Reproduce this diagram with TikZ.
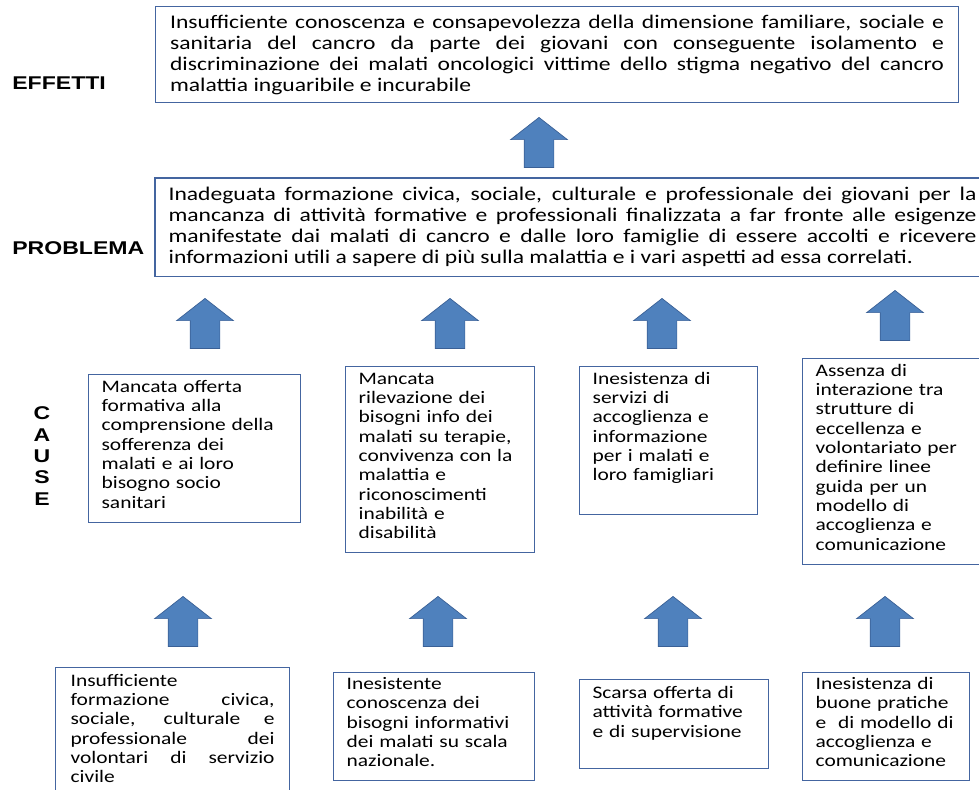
\documentclass[tikz,border=0pt]{standalone}
\usepackage{fontspec}
\setmainfont{Carlito}[FakeStretch=1.22]
\newfontfamily\labelfont{Liberation Sans}[FakeStretch=1.25]
\usepackage{tikz}
\usetikzlibrary{shapes.arrows}
\definecolor{boxline}{RGB}{68,101,160}
\definecolor{arrowfill}{RGB}{79,129,189}
\definecolor{arrowline}{RGB}{58,96,150}
\tikzset{
    %Define standard block arrow
    freccia/.style={
           single arrow,
           rotate=90,
           anchor=tip,
           fill=arrowfill, draw=arrowline, thin,
           minimum height=1cm,
           minimum width=1.12cm,
           single arrow head extend=0.27cm,
           single arrow tip angle=104,
           inner sep=0pt,
           text height=0.29cm, text depth=0.29cm},
    % Define style for the wide boxes
    riquadro/.style={
           rectangle,
           draw=boxline, line width=0.7pt,
           anchor=north west,
           inner xsep=0.26cm, inner ysep=0pt,
           align=justify,
           font=\fontsize{11}{12}\selectfont},
    % Define style for cause boxes
    causa/.style={
           rectangle,
           draw=boxline, line width=0.7pt,
           anchor=north west,
           inner xsep=0.26cm, inner ysep=0pt,
           align=left,
           text height=0.35cm,
           font=\fontsize{10}{11}\selectfont},
    % Define style for the side labels
    etichetta/.style={inner sep=0pt, font=\labelfont\bfseries\fontsize{10.5}{12.2}\selectfont}
}

\begin{document}
\begin{tikzpicture}[x=0.02cm,y=-0.02cm]
  \useasboundingbox (0,0) rectangle (979,789);
  % labels
  \node[etichetta, anchor=west] (leff) at (12,83) {EFFETTI};
  \node[etichetta, anchor=west] (lprob) at (12,248) {PROBLEMA};
  \node[etichetta, align=center] (lcause) at (42,456) {C\\A\\U\\S\\E};
  % effects and problem
  \node[riquadro, text width=15.48cm, minimum width=16.06cm, minimum height=1.92cm] (eff) at (155,6)
    {Insufficiente conoscenza e consapevolezza della dimensione familiare, sociale e\linebreak
     sanitaria del cancro da parte dei giovani con conseguente isolamento e\linebreak
     discriminazione dei malati oncologici vittime dello stigma negativo del cancro\linebreak
     malattia inguaribile e incurabile};
  \node[riquadro, draw=none, text width=16.16cm, minimum height=1.94cm] (prob) at (155,178)
    {Inadeguata formazione civica, sociale, culturale e professionale dei giovani per la\linebreak
     mancanza di attività formative e professionali finalizzata a far fronte alle esigenze\linebreak
     manifestate dai malati di cancro e dalle loro famiglie di essere accolti e ricevere\linebreak
     informazioni utili a sapere di più sulla malattia e i vari aspetti ad essa correlati.};
  \draw[boxline, line width=0.7pt] (prob.north west) rectangle ([xshift=0.4cm]prob.south east);
  % causes
  \node[causa, text width=3.72cm, text depth=2.61cm] (c1) at (88,374)
    {Mancata offerta\\formativa alla\\comprensione della\\sofferenza dei\\malati e ai loro\\bisogno socio\\sanitari};
  \node[causa, text width=3.26cm, text depth=3.37cm] (c2) at (345,366)
    {Mancata\\rilevazione dei\\bisogni info dei\\malati su terapie,\\convivenza con la\\malattia e\\riconoscimenti\\inabilità e\\disabilità};
  \node[causa, text width=3.04cm, text depth=2.61cm] (c3) at (579,366)
    {Inesistenza di\\servizi di\\accoglienza e\\informazione\\per i malati e\\loro famigliari};
  \node[causa, text width=3.14cm, text depth=3.77cm] (c4) at (802,358)
    {Assenza di\\interazione tra\\strutture di\\eccellenza e\\volontariato per\\definire linee\\guida per un\\modello di\\accoglienza e\\comunicazione};
  % root causes
  \node[causa, align=justify, text width=4.08cm, minimum width=4.68cm, text height=0.37cm, text depth=2.31cm] (r1) at (55,667)
    {Insufficiente\\formazione civica,\linebreak sociale, culturale e\linebreak professionale dei\linebreak volontari di servizio\linebreak civile};
  \node[causa, text width=3.5cm, text height=0.34cm, text depth=1.81cm] (r2) at (333,672)
    {Inesistente\\conoscenza dei\\bisogni informativi\\dei malati su scala\\nazionale.};
  \node[causa, text width=3.26cm, text height=0.38cm, text depth=1.40cm] (r3) at (579,679)
    {Scarsa offerta di\\attività formative\\e di supervisione};
  \node[causa, text width=2.82cm, text height=0.34cm, text depth=1.81cm] (r4) at (802,672)
    {Inesistenza di\\buone pratiche\\e~ di modello di\\accoglienza e\\comunicazione};
  % arrows
  \node[freccia] (f0) at (539,117) {};
  \node[freccia] (f1) at (205,298) {};
  \node[freccia] (f2) at (450,298) {};
  \node[freccia] (f3) at (662,298) {};
  \node[freccia] (f4) at (895,290) {};
  \node[freccia] (g1) at (183,596) {};
  \node[freccia] (g2) at (438,596) {};
  \node[freccia] (g3) at (673,596) {};
  \node[freccia] (g4) at (885,596) {};
\end{tikzpicture}
\end{document}
